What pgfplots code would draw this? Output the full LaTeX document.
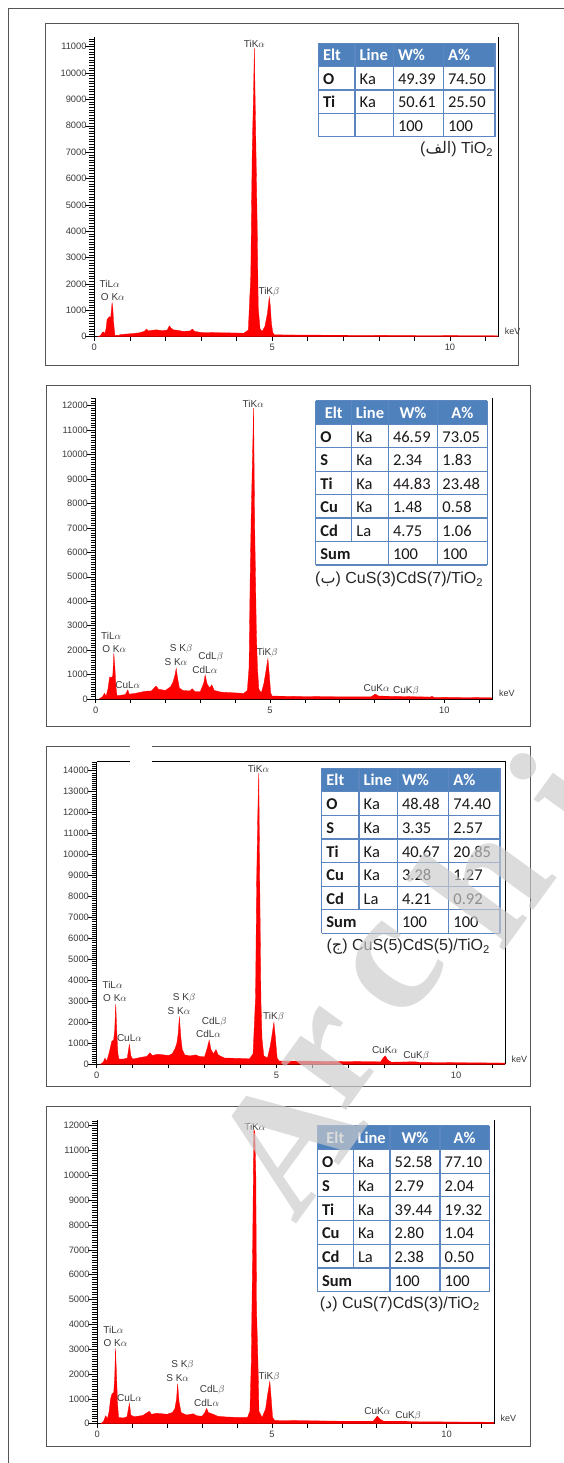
\documentclass[border=0pt]{standalone}
\usepackage{pgfplots}
\pgfplotsset{compat=1.18}
\usepackage{pgfplotstable}
\usepackage{fontspec}
\setmainfont{Liberation Sans}
\newfontfamily\tblfont{Carlito}
\newfontfamily\wmfont{Liberation Serif}
\newfontfamily\arabicfont[Script=Arabic]{DejaVu Sans}
\TeXXeTstate=1
\definecolor{hdr}{HTML}{4F81BD}
\definecolor{gridc}{HTML}{5B86C0}
\definecolor{lbl}{HTML}{3A3A3A}
\definecolor{frm}{HTML}{555555}
\definecolor{wm}{HTML}{CBCBCB}

\pgfplotstableread{
x y
0.10 0
0.18 50
0.22 150
0.26 180
0.30 120
0.33 300
0.36 650
0.40 720
0.43 760
0.46 700
0.48 1000
0.50 1290
0.52 1100
0.54 600
0.56 300
0.58 50
0.70 50
0.72 80
0.90 100
1.10 120
1.28 150
1.40 200
1.47 290
1.52 220
1.60 240
1.75 260
1.90 230
2.05 250
2.11 410
2.16 330
2.22 260
2.35 240
2.50 200
2.70 220
2.76 290
2.82 200
3.00 160
3.50 150
4.00 140
4.20 130
4.33 250
4.40 2300
4.44 7000
4.48 9400
4.50 10950
4.52 9250
4.55 6750
4.58 4250
4.61 1100
4.66 300
4.72 200
4.80 400
4.87 900
4.92 1500
4.95 1150
4.98 500
5.02 150
5.06 70
6.00 60
7.00 55
8.00 50
9.00 45
10.00 40
11.36 35
}\dataA

\pgfplotstableread{
x y
0.10 0
0.20 100
0.25 230
0.30 120
0.35 400
0.40 900
0.45 870
0.49 950
0.52 1870
0.55 1300
0.58 500
0.61 150
0.70 150
0.85 180
0.92 370
0.96 200
1.10 220
1.30 280
1.45 320
1.60 330
1.73 530
1.80 400
2.00 350
2.15 500
2.22 700
2.27 950
2.31 1250
2.35 850
2.40 450
2.50 350
2.70 330
2.77 420
2.85 300
3.00 300
3.10 650
3.14 980
3.20 600
3.27 450
3.33 580
3.40 350
3.60 280
4.00 250
4.25 230
4.35 350
4.40 1300
4.43 4800
4.46 7400
4.50 10000
4.53 11900
4.56 7200
4.61 2700
4.64 1300
4.68 400
4.75 250
4.82 600
4.88 1100
4.94 1650
4.98 1000
5.02 250
5.06 120
6.00 100
7.00 90
7.90 90
8.02 200
8.12 120
8.85 100
9.60 80
9.65 110
9.70 70
11.39 50
}\dataB

\pgfplotstableread{
x y
0.10 0
0.18 100
0.23 290
0.28 150
0.34 500
0.38 800
0.42 1100
0.47 1150
0.50 1600
0.53 2860
0.56 1500
0.59 500
0.62 250
0.75 250
0.85 300
0.91 950
0.95 400
1.00 250
1.20 320
1.40 380
1.48 550
1.55 420
1.70 480
1.85 450
2.00 420
2.10 500
2.18 750
2.23 1000
2.27 1500
2.30 2270
2.34 1300
2.38 700
2.45 450
2.60 400
2.75 450
2.85 380
3.00 350
3.08 800
3.13 1150
3.18 700
3.25 500
3.32 700
3.38 450
3.55 300
4.00 280
4.25 260
4.35 500
4.42 3200
4.45 8700
4.48 11800
4.51 13900
4.54 8000
4.57 3000
4.60 1200
4.65 400
4.75 300
4.82 800
4.87 1300
4.93 2000
4.97 1300
5.02 300
5.08 150
6.00 150
7.00 130
7.90 120
7.97 300
8.03 400
8.10 200
8.20 100
8.85 120
9.00 90
11.36 60
}\dataC

\pgfplotstableread{
x y
0.10 0
0.18 100
0.24 320
0.29 200
0.34 500
0.38 1000
0.42 1200
0.47 1250
0.50 1900
0.52 3030
0.55 2000
0.58 800
0.61 250
0.75 230
0.85 280
0.92 820
0.96 350
1.05 280
1.30 330
1.49 500
1.55 380
1.70 420
1.85 400
2.00 380
2.15 450
2.22 600
2.27 1000
2.30 1600
2.34 900
2.40 450
2.55 350
2.75 400
2.85 320
3.00 300
3.08 450
3.13 620
3.18 450
3.32 380
3.45 300
3.70 270
4.10 250
4.30 250
4.37 500
4.41 2500
4.45 7200
4.48 11800
4.51 11800
4.54 10000
4.56 4600
4.60 2500
4.63 500
4.72 250
4.82 600
4.88 1200
4.94 1700
4.98 1000
5.02 250
5.08 130
6.00 120
7.00 100
7.90 100
7.97 220
8.02 310
8.10 180
8.20 100
8.85 100
9.00 80
11.36 60
}\dataD

\pgfplotsset{
  eds/.style={
    scale only axis, anchor=south west, xmin=0, ymin=0, clip=false,
    axis x line*=bottom, axis y line*=left,
    axis line style={-, black, line width=0.6pt},
    xtick={0,...,11}, xticklabels={0,,,,,5,,,,,10,},
    minor ytick={0,100,...,14400},
    tick align=outside,
    xtick style={black, line width=0.5pt, /pgfplots/major tick length=4pt},
    ytick style={black, line width=0.5pt, /pgfplots/major tick length=9pt},
    minor tick length=5pt,
    minor tick style={black, line width=0.4pt},
    tick label style={font=\fontsize{9.3}{10}\selectfont, text=lbl},
    /pgf/number format/assume math mode=true,
    /pgf/number format/set thousands separator={},
    scaled y ticks=false,
  },
  spec/.style={fill=red, draw=red, line width=0.3pt},
}
\tikzset{
  edspk/.style={font=\fontsize{10}{11}\selectfont, text=lbl, inner sep=0pt},
  edskev/.style={font=\fontsize{9}{10}\selectfont, text=lbl, anchor=base west, xshift=3pt, yshift=2pt},
  edshf/.style={font=\tblfont\bfseries\fontsize{16.5}{18}\selectfont, text=white, inner sep=0pt},
  edsbf/.style={font=\tblfont\fontsize{16.5}{18}\selectfont, text=black!90, inner sep=0pt},
  edscap/.style={font=\fontsize{16}{18}\selectfont, text=black!85, anchor=base east, inner sep=0pt},
  edswm/.style={font=\wmfont\bfseries\fontsize{175}{175}\selectfont, text=wm, opacity=0.67, rotate=54, inner sep=0pt},
}
\newif\ifhc
\newcommand\tbl[9]{%
  \def\Xa{#1}\def\Xb{#2}\def\Xc{#3}\def\Xd{#4}\def\Xe{#5}\def\Yt{#6}\def\Rh{#7}\def\Nr{#8}%
  \fill[hdr] (\Xa,\Yt) rectangle (\Xe,{\Yt-\Rh});
  \foreach \k in {1,...,\Nr} \draw[gridc, line width=1.1pt] (\Xa,{\Yt-\k*\Rh}) -- (\Xe,{\Yt-\k*\Rh});
  \draw[gridc, line width=1.1pt] (\Xa,\Yt) -- (\Xe,\Yt);
  \foreach \xx in {\Xa,\Xc,\Xd,\Xe} \draw[gridc, line width=1.1pt] (\xx,\Yt) -- (\xx,{\Yt-\Nr*\Rh});
  \draw[gridc, line width=1.1pt] (\Xb,\Yt) -- (\Xb,{\Yt-#9*\Rh});
}
\newcommand\hcell[3]{%
  \ifhc \node[edshf, anchor=base] at ({(#1+#2)/2},{\Yt-\Rh+6}) {#3};
  \else \node[edshf, anchor=base west] at ({#1+4.5},{\Yt-\Rh+6}) {#3};\fi}
\newcommand\thead{%
  \hcell{\Xa}{\Xb}{Elt}\hcell{\Xb}{\Xc}{Line}\hcell{\Xc}{\Xd}{W\%}\hcell{\Xd}{\Xe}{A\%}}
\newcommand\trow[5]{%
  \node[edsbf, anchor=base west] at ({\Xa+4.5},{\Yt-(#1+1)*\Rh+5.5}) {\bfseries #2};
  \node[edsbf, anchor=base west] at ({\Xb+4.5},{\Yt-(#1+1)*\Rh+5.5}) {#3};
  \node[edsbf, anchor=base west] at ({\Xc+4.5},{\Yt-(#1+1)*\Rh+5.5}) {#4};
  \node[edsbf, anchor=base west] at ({\Xd+4.5},{\Yt-(#1+1)*\Rh+5.5}) {#5};}

\begin{document}
\begin{tikzpicture}[x=1pt,y=1pt]
\useasboundingbox (0,0) rectangle (564,1463);
\fill[white] (0,0) rectangle (564,1463);
\draw[frm, line width=1pt] (8,0) -- (8,1454) -- (564,1454);
\draw[frm, line width=1pt] (45,1097) rectangle (518,1439);
\draw[frm, line width=1pt] (46,736) rectangle (530,1077.3);
\draw[frm, line width=1pt] (46,376) rectangle (530,716.3);
\draw[frm, line width=1pt] (46,16) rectangle (530,356.3);

% ---------- Panel 1 ----------
\begin{axis}[eds, at={(94.3pt,1126.3pt)}, width=404pt, height=299.4pt,
  xmax=11.36, ymax=11358, ytick={0,1000,...,11000}]
\addplot[spec] table {\dataA} \closedcycle;
\draw[black, line width=0.6pt] (rel axis cs:1,0) -- (rel axis cs:1,1);
\node[edspk] at (axis cs:4.50,11110) {TiK$\alpha$};
\node[edspk] at (axis cs:0.43,1990) {TiL$\alpha$};
\node[edspk] at (axis cs:0.52,1490) {O K$\alpha$};
\node[edspk] at (axis cs:4.91,1710) {TiK$\beta$};
\node[edskev] at (rel axis cs:1,0) {keV};
\end{axis}

% ---------- Panel 2 ----------
\begin{axis}[eds, at={(95.7pt,764pt)}, width=397pt, height=301.3pt,
  xmax=11.39, ymax=12328, ytick={0,1000,...,12000}]
\addplot[spec] table {\dataB} \closedcycle;
\draw[black, line width=0.6pt] (rel axis cs:1,0) -- (rel axis cs:1,1);
\node[edspk] at (axis cs:4.52,12060) {TiK$\alpha$};
\node[edspk] at (axis cs:0.44,2590) {TiL$\alpha$};
\node[edspk] at (axis cs:0.53,2050) {O K$\alpha$};
\node[edspk] at (axis cs:0.92,570) {CuL$\alpha$};
\node[edspk] at (axis cs:2.45,2030) {S K$\beta$};
\node[edspk] at (axis cs:2.30,1500) {S K$\alpha$};
\node[edspk] at (axis cs:3.30,1730) {CdL$\beta$};
\node[edspk] at (axis cs:3.13,1190) {CdL$\alpha$};
\node[edspk] at (axis cs:4.92,1870) {TiK$\beta$};
\node[edspk] at (axis cs:8.06,440) {CuK$\alpha$};
\node[edspk] at (axis cs:8.90,330) {CuK$\beta$};
\node[edskev] at (rel axis cs:1,0) {keV};
\end{axis}

% ---------- Panel 3 ----------
\begin{axis}[eds, at={(96.7pt,398.7pt)}, width=408.3pt, height=302.6pt,
  xmax=11.36, ymax=14430, ytick={0,1000,...,14000}]
\addplot[spec] table {\dataC} \closedcycle;
\draw[black, line width=0.6pt] (rel axis cs:1,0) -- (rel axis cs:1,1) -- (rel axis cs:0,1);
\node[edspk] at (axis cs:4.50,14090) {TiK$\alpha$};
\node[edspk] at (axis cs:0.44,3780) {TiL$\alpha$};
\node[edspk] at (axis cs:0.51,3150) {O K$\alpha$};
\node[edspk] at (axis cs:0.91,1240) {CuL$\alpha$};
\node[edspk] at (axis cs:2.43,3150) {S K$\beta$};
\node[edspk] at (axis cs:2.29,2540) {S K$\alpha$};
\node[edspk] at (axis cs:3.27,2030) {CdL$\beta$};
\node[edspk] at (axis cs:3.11,1430) {CdL$\alpha$};
\node[edspk] at (axis cs:4.92,2240) {TiK$\beta$};
\node[edspk] at (axis cs:8.02,680) {CuK$\alpha$};
\node[edspk] at (axis cs:8.89,400) {CuK$\beta$};
\node[edskev] at (rel axis cs:1,0) {keV};
\end{axis}

% ---------- Panel 4 ----------
\begin{axis}[eds, at={(97.3pt,39.3pt)}, width=396.7pt, height=303.7pt,
  xmax=11.36, ymax=12231, ytick={0,1000,...,12000}]
\addplot[spec] table {\dataD} \closedcycle;
\draw[black, line width=0.6pt] (rel axis cs:1,0) -- (rel axis cs:1,1);
\node[edspk] at (axis cs:4.51,11960) {TiK$\alpha$};
\node[edspk] at (axis cs:0.46,3770) {TiL$\alpha$};
\node[edspk] at (axis cs:0.52,3260) {O K$\alpha$};
\node[edspk] at (axis cs:0.92,1050) {CuL$\alpha$};
\node[edspk] at (axis cs:2.44,2360) {S K$\beta$};
\node[edspk] at (axis cs:2.30,1830) {S K$\alpha$};
\node[edspk] at (axis cs:3.29,1360) {CdL$\beta$};
\node[edspk] at (axis cs:3.13,820) {CdL$\alpha$};
\node[edspk] at (axis cs:4.92,1890) {TiK$\beta$};
\node[edspk] at (axis cs:8.02,510) {CuK$\alpha$};
\node[edspk] at (axis cs:8.90,310) {CuK$\beta$};
\node[edskev] at (rel axis cs:1,0) {keV};
\end{axis}

% white gap on panel 3 top
\fill[white] (130,699) rectangle (152,718);

% ---------- Tables ----------
\hcfalse
\tbl{318.3}{355}{393.3}{443.3}{495}{1419.7}{23.35}{4}{4}
\thead
\trow{1}{O}{Ka}{49.39}{74.50}
\trow{2}{Ti}{Ka}{50.61}{25.50}
\trow{3}{}{}{100}{100}
\node[edscap] at (493.3,1309) {({\arabicfont\beginR الف\endR}) TiO\textsubscript{2}};

\hctrue
\tbl{315.7}{351.7}{388.3}{437.7}{487.3}{1062.3}{23.47}{7}{6}
\thead
\trow{1}{O}{Ka}{46.59}{73.05}
\trow{2}{S}{Ka}{2.34}{1.83}
\trow{3}{Ti}{Ka}{44.83}{23.48}
\trow{4}{Cu}{Ka}{1.48}{0.58}
\trow{5}{Cd}{La}{4.75}{1.06}
\trow{6}{Sum}{}{100}{100}
\node[edscap] at (483.3,879) {({\arabicfont\beginR ب\endR}) CuS(3)CdS(7)/TiO\textsubscript{2}};

\hcfalse
\tbl{321.7}{359}{397.3}{448.7}{500}{694.7}{23.57}{7}{6}
\thead
\trow{1}{O}{Ka}{48.48}{74.40}
\trow{2}{S}{Ka}{3.35}{2.57}
\trow{3}{Ti}{Ka}{40.67}{20.85}
\trow{4}{Cu}{Ka}{3.28}{1.27}
\trow{5}{Cd}{La}{4.21}{0.92}
\trow{6}{Sum}{}{100}{100}
\node[edscap] at (490,512) {({\arabicfont\beginR ج\endR}) CuS(5)CdS(5)/TiO\textsubscript{2}};

\hctrue
\tbl{317.3}{353.3}{390}{440}{489.3}{337.3}{23.71}{7}{6}
\thead
\trow{1}{O}{Ka}{52.58}{77.10}
\trow{2}{S}{Ka}{2.79}{2.04}
\trow{3}{Ti}{Ka}{39.44}{19.32}
\trow{4}{Cu}{Ka}{2.80}{1.04}
\trow{5}{Cd}{La}{2.38}{0.50}
\trow{6}{Sum}{}{100}{100}
\node[edscap] at (480,154.7) {({\arabicfont\beginR د\endR}) CuS(7)CdS(3)/TiO\textsubscript{2}};

% ---------- watermark ----------
\begin{scope}
\clip (0,0) rectangle (564,1463);
\node[edswm] at (286,323) {A};
\node[edswm] at (333,404) {r};
\node[edswm] at (395,493) {c};
\node[edswm] at (481,584) {h};
\node[edswm] at (562,668) {i};
\end{scope}
\end{tikzpicture}
\end{document}
